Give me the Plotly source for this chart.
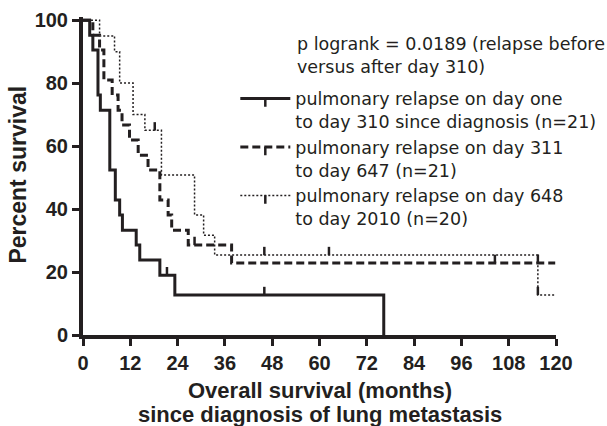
import plotly.graph_objects as go

# ---- data (months, percent survival) ----
solid_t = [0, 1.7, 2.5, 3.8, 4.4, 6.8, 8.2, 9.3, 10.0, 13.5, 14.4, 19.5, 23.3, 76.3]
solid_s = [100, 95.2, 90.5, 76.2, 71.4, 52.4, 42.9, 38.1, 33.3, 28.6, 23.8, 19.0, 12.7, 0]
solid_cens_t = [21.3, 46.0]
solid_cens_s = [19.0, 12.7]

dashed_t = [0, 2.5, 4.2, 5.3, 7.4, 8.9, 9.9, 11.8, 14.0, 16.5, 19.5, 21.6, 22.5, 26.7, 37.7, 119.8]
dashed_s = [100, 95.2, 90.5, 81.0, 76.2, 71.4, 66.7, 61.9, 57.1, 52.4, 42.9, 38.1, 33.3, 28.6, 22.9, 22.9]
dashed_cens_t = [28.3, 104.5, 115.4]
dashed_cens_s = [28.6, 22.9, 22.9]

dotted_t = [0, 4.2, 8.0, 9.3, 12.7, 15.7, 19.9, 28.3, 30.6, 33.4, 115.4, 120]
dotted_s = [100, 95, 90, 80, 70, 65, 50.8, 38.1, 31.7, 25.4, 12.7, 12.7]
dotted_cens_t = [18.2, 46.0, 62.4, 115.4]
dotted_cens_s = [65, 25.4, 25.4, 12.7]

names = [
    "pulmonary relapse on day one<br>to day 310 since diagnosis (n=21)",
    "pulmonary relapse on day 311<br>to day 647 (n=21)",
    "pulmonary relapse on day 648<br>to day 2010 (n=20)",
]
x_ticks = [0, 12, 24, 36, 48, 60, 72, 84, 96, 108, 120]
y_ticks = [0, 20, 40, 60, 80, 100]

INK = "#231f20"
styles = [
    dict(width=3, dash="solid"),
    dict(width=3, dash="8px,4px"),
    dict(width=1.5, dash="2px,2px"),
]
series = [
    (solid_t, solid_s, solid_cens_t, solid_cens_s),
    (dashed_t, dashed_s, dashed_cens_t, dashed_cens_s),
    (dotted_t, dotted_s, dotted_cens_t, dotted_cens_s),
]

tick_marker = dict(symbol="line-ns", size=6, angle=180, standoff=4,
                   line=dict(width=2.5, color=INK), color=INK)

fig = go.Figure()
for (t, s, ct, cs), st, nm in zip(series, styles, names):
    fig.add_trace(go.Scatter(x=t, y=s, mode="lines", line_shape="hv",
                             line=dict(color=INK, **st), showlegend=False,
                             hoverinfo="skip"))
    fig.add_trace(go.Scatter(x=ct, y=cs, mode="markers", marker=tick_marker,
                             showlegend=False, cliponaxis=False, hoverinfo="skip"))
    fig.add_trace(go.Scatter(x=[None], y=[None], mode="lines+markers",
                             line=dict(color=INK, **st), marker=tick_marker,
                             name=nm))

axis_common = dict(showgrid=False, zeroline=False, showline=True, linewidth=4,
                   linecolor=INK, ticks="outside", ticklen=7, tickwidth=3,
                   tickcolor=INK,
                   tickfont=dict(family="Liberation Sans", size=20, weight="bold", color=INK))

fig.update_layout(
    width=607, height=426,
    margin=dict(l=83, r=51, t=17, b=91, autoexpand=False),
    paper_bgcolor="white", plot_bgcolor="white",
    xaxis=dict(range=[0, 120], tickvals=x_ticks, **axis_common),
    yaxis=dict(range=[0, 101], tickvals=y_ticks, **axis_common),
    legend=dict(x=0.322, y=0.80, xanchor="left", yanchor="top", valign="top",
                itemwidth=50, bgcolor="rgba(0,0,0,0)",
                font=dict(family="DejaVu Sans", size=17.5, color=INK)),
    annotations=[
        dict(text="p logrank = 0.0189 (relapse before<br>versus after day 310)",
             xref="paper", yref="paper", x=0.448, y=0.952, xanchor="left", yanchor="top",
             align="left", showarrow=False,
             font=dict(family="DejaVu Sans", size=17.5, color=INK)),
        dict(text="Overall survival (months)", xref="paper", yref="paper",
             x=0.5, y=-0.173, xanchor="center", yanchor="middle", showarrow=False,
             font=dict(family="Liberation Sans", size=22, weight="bold", color=INK)),
        dict(text="since diagnosis of lung metastasis", xref="paper", yref="paper",
             x=0.5, y=-0.249, xanchor="center", yanchor="middle", showarrow=False,
             font=dict(family="Liberation Sans", size=22, weight="bold", color=INK)),
        dict(text="Percent survival", xref="paper", yref="paper", textangle=-90,
             x=-0.137, y=0.505, xanchor="center", yanchor="middle", showarrow=False,
             font=dict(family="Liberation Sans", size=23, weight="bold", color=INK)),
    ],
)

fig.write_html("out.html", post_script="document.body.style.margin='0';",
               config={"displayModeBar": False})
